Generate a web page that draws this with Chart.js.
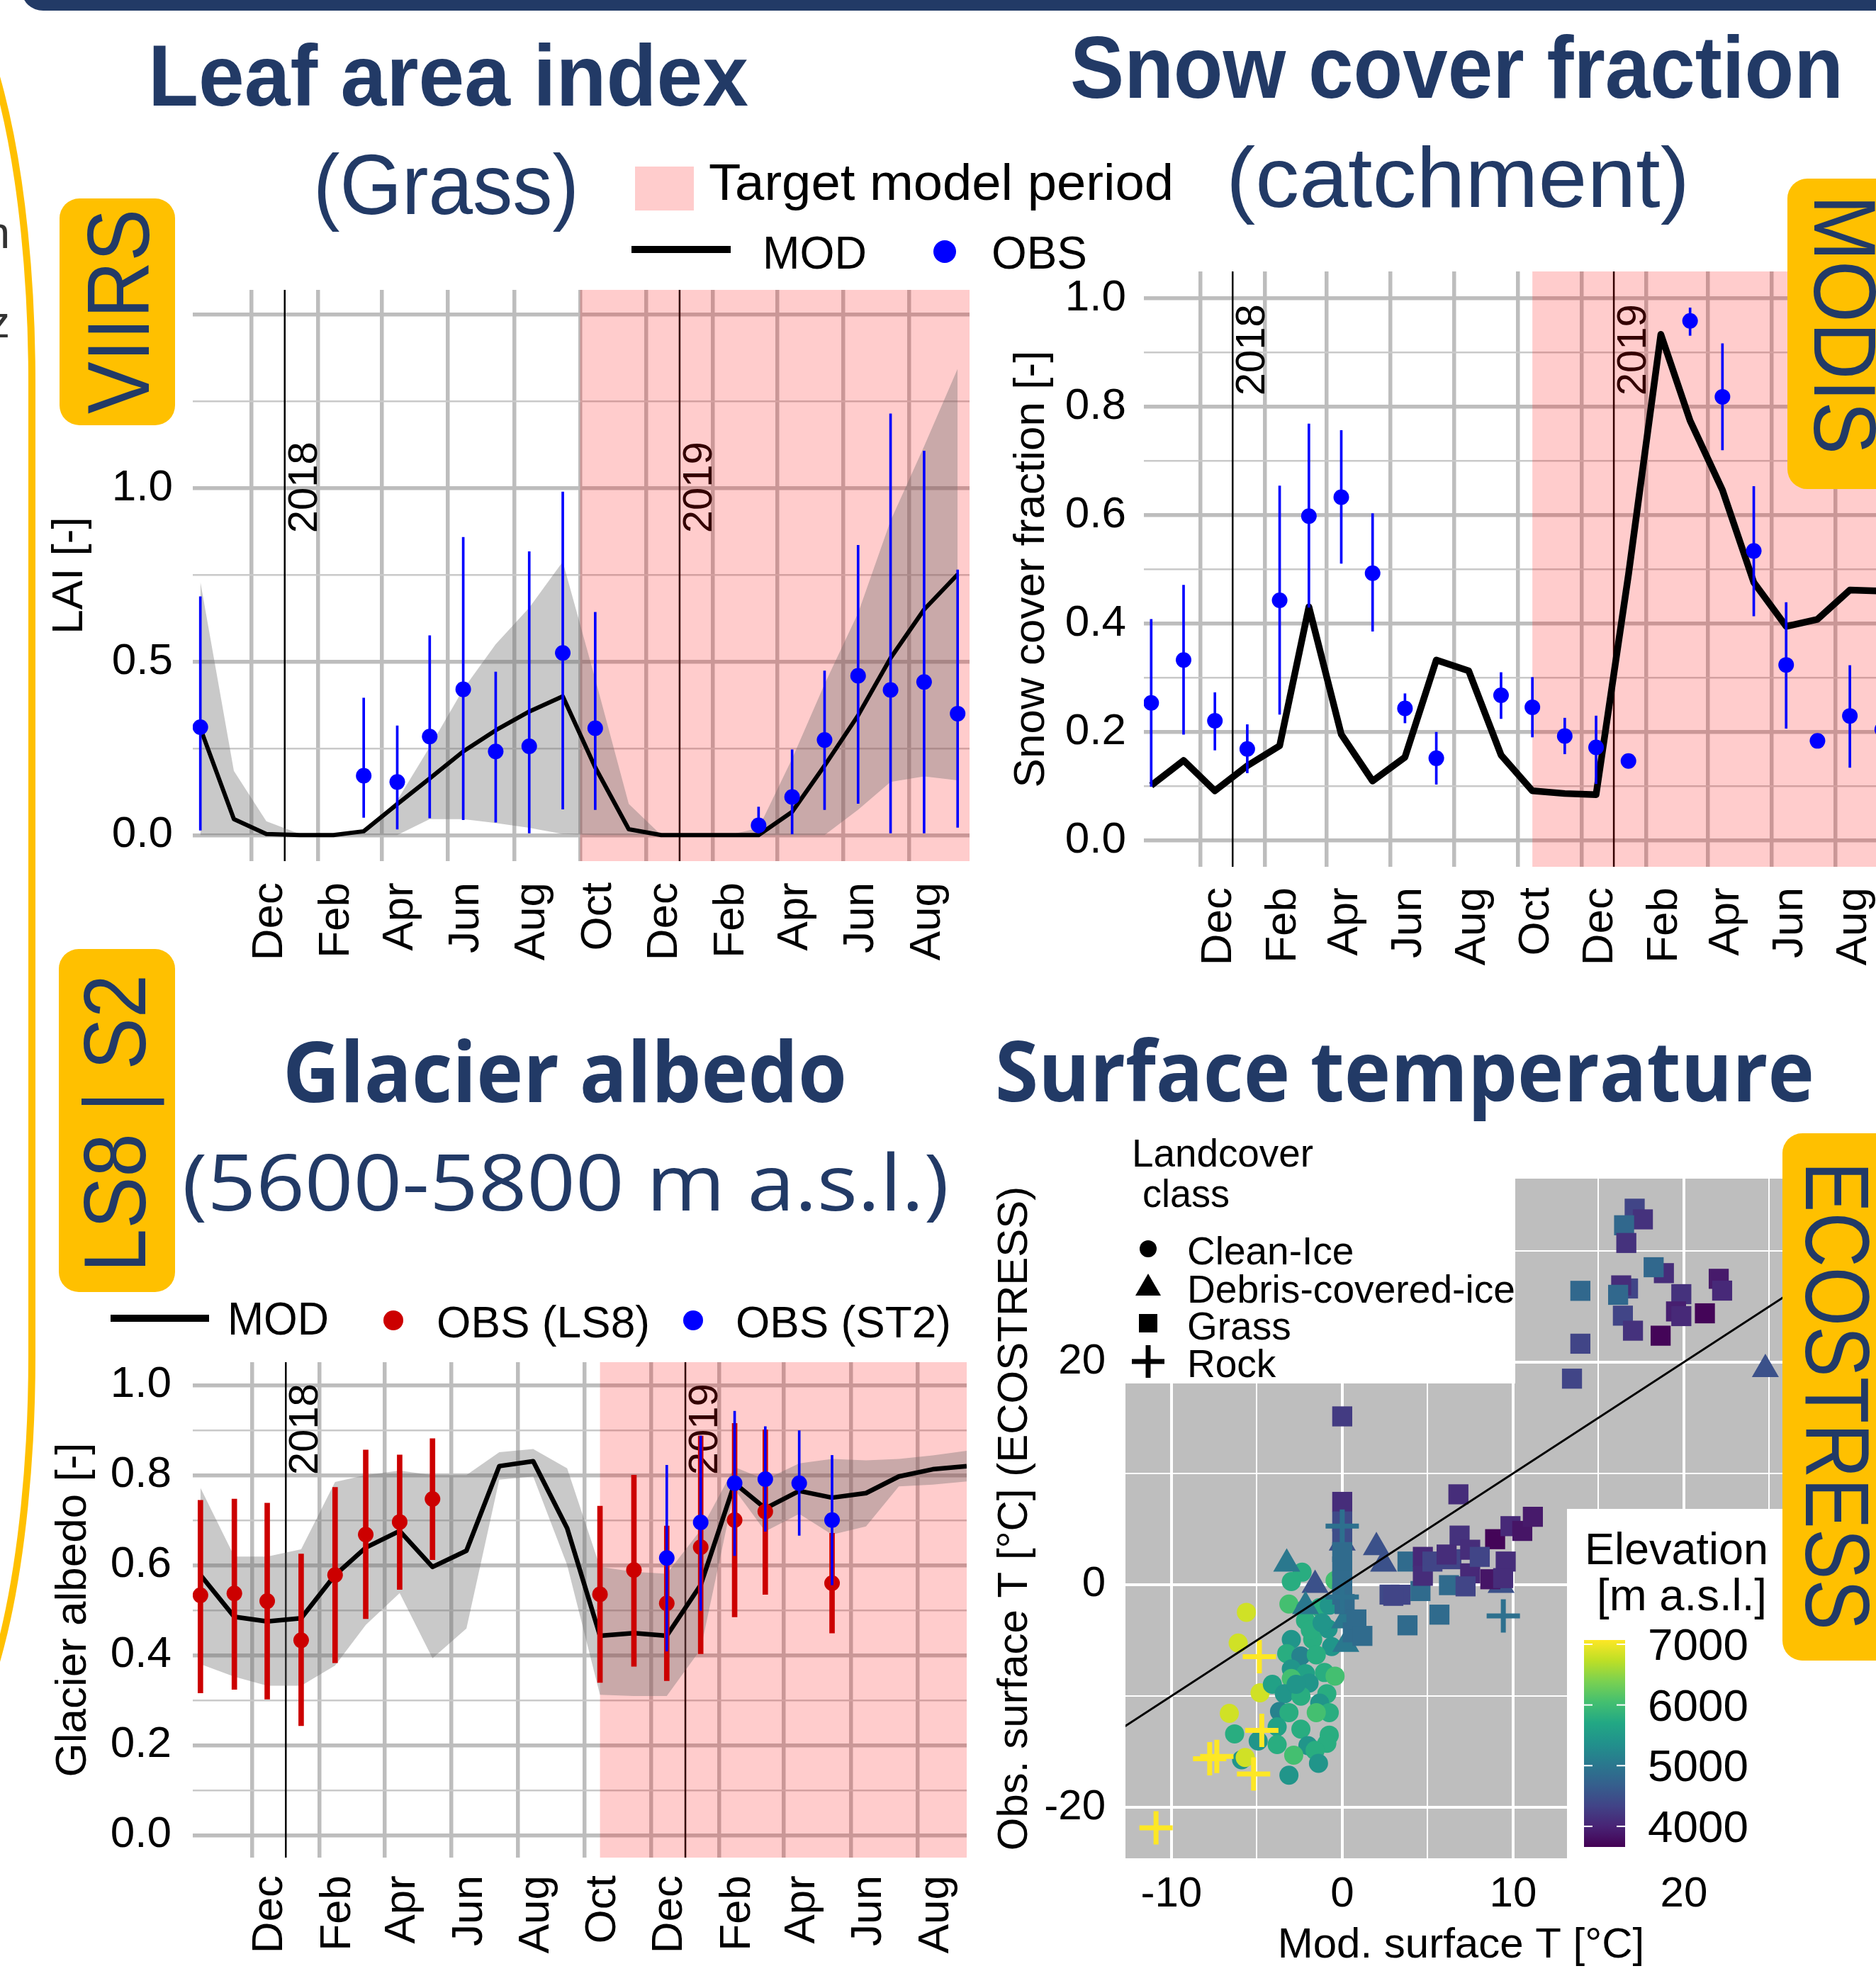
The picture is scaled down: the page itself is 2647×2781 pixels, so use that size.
<!DOCTYPE html>
<html>
<head>
<meta charset="utf-8">
<title>Model evaluation panels</title>
<script src="https://cdn.jsdelivr.net/npm/chart.js@4.4.1/dist/chart.umd.min.js"></script>
<style>
html,body{margin:0;padding:0;background:#fff;overflow:hidden;}
body{width:2647px;height:2781px;position:relative;}
.cw{position:absolute;}
.cw canvas{display:block;}
#ov{position:absolute;left:0;top:0;z-index:5;}
#ov text{font-family:'Liberation Sans',Arial,sans-serif;}
#ov .os{font-family:'Open Sans','Noto Sans',sans-serif;}
</style>
</head>
<body>
<div class="cw" style="left:60px;top:380px;"><canvas id="laiChart" width="1330" height="1030"></canvas></div>
<div class="cw" style="left:1400px;top:360px;"><canvas id="snowChart" width="1290" height="1060"></canvas></div>
<div class="cw" style="left:60px;top:1900px;"><canvas id="albChart" width="1320" height="881"></canvas></div>
<div class="cw" style="left:1380px;top:1590px;"><canvas id="lstChart" width="1267" height="1191"></canvas></div>

<svg id="ov" width="2647" height="2781" viewBox="0 0 2647 2781">
  <defs>
    <linearGradient id="vir" x1="0" y1="0" x2="0" y2="1"></linearGradient>
  </defs>
  <!-- frame pieces -->
  <rect x="31" y="-40" width="2700" height="55" rx="30" fill="#223a66"/>
  <rect x="-300" y="-39" width="345" height="2531" rx="150" ry="580" fill="none" stroke="#FFC000" stroke-width="10"/>
  <text x="14" y="350" text-anchor="end" font-size="63" fill="#333">n</text>
  <text x="14" y="476" text-anchor="end" font-size="63" fill="#333">z</text>

  <!-- titles -->
  <g fill="#223a66">
    <text x="209" y="149" font-size="123" font-weight="700" textLength="847" lengthAdjust="spacingAndGlyphs">Leaf area index</text>
    <text x="442" y="302" font-size="120" textLength="375" lengthAdjust="spacingAndGlyphs">(Grass)</text>
    <text x="1510" y="138" font-size="125" font-weight="700" textLength="1091" lengthAdjust="spacingAndGlyphs">Snow cover fraction</text>
    <text x="1730" y="292" font-size="120" textLength="654" lengthAdjust="spacingAndGlyphs">(catchment)</text>
    <text class="os" x="399" y="1555" font-size="119" font-weight="700" textLength="796" lengthAdjust="spacingAndGlyphs">Glacier albedo</text>
    <text class="os" x="257" y="1708" font-size="109" textLength="1082" lengthAdjust="spacingAndGlyphs">(5600-5800 m a.s.l.)</text>
    <text class="os" x="1404" y="1554" font-size="119" font-weight="700" textLength="1156" lengthAdjust="spacingAndGlyphs">Surface temperature</text>
  </g>

  <!-- top legend -->
  <rect x="896" y="235" width="83" height="62" fill="#FFCCCC"/>
  <text x="1000" y="282" font-size="73" textLength="656" lengthAdjust="spacingAndGlyphs">Target model period</text>
  <line x1="891" y1="352" x2="1031" y2="352" stroke="#000" stroke-width="10"/>
  <text x="1076" y="379" font-size="64" textLength="147" lengthAdjust="spacingAndGlyphs">MOD</text>
  <circle cx="1333" cy="355" r="16" fill="#0000FF"/>
  <text x="1399" y="379" font-size="64" textLength="135" lengthAdjust="spacingAndGlyphs">OBS</text>

  <!-- albedo legend -->
  <line x1="156" y1="1860" x2="295" y2="1860" stroke="#000" stroke-width="10"/>
  <text x="321" y="1883" font-size="64" textLength="143" lengthAdjust="spacingAndGlyphs">MOD</text>
  <circle cx="555" cy="1863" r="14" fill="#CC0000"/>
  <text x="616" y="1887" font-size="63" textLength="301" lengthAdjust="spacingAndGlyphs">OBS (LS8)</text>
  <circle cx="978" cy="1863" r="14" fill="#0000FF"/>
  <text x="1038" y="1887" font-size="63" textLength="304" lengthAdjust="spacingAndGlyphs">OBS (ST2)</text>

  <!-- landcover legend -->
  <rect x="1588" y="1588" width="550" height="364" fill="#fff"/>
  <text x="1597" y="1646" font-size="55" textLength="256" lengthAdjust="spacingAndGlyphs">Landcover</text>
  <text x="1612" y="1703" font-size="55" textLength="123" lengthAdjust="spacingAndGlyphs">class</text>
  <circle cx="1620" cy="1762" r="12" fill="#000"/>
  <polygon points="1620,1797 1638,1828 1602,1828" fill="#000"/>
  <rect x="1607" y="1854" width="26" height="26" fill="#000"/>
  <path d="M1597 1921 H1643 M1620 1898 V1944" stroke="#000" stroke-width="7"/>
  <text x="1675" y="1784" font-size="55">Clean-Ice</text>
  <text x="1675" y="1838" font-size="55" textLength="463" lengthAdjust="spacingAndGlyphs">Debris-covered-ice</text>
  <text x="1675" y="1890" font-size="55">Grass</text>
  <text x="1675" y="1943" font-size="55">Rock</text>

  <!-- elevation legend -->
  <rect x="2211" y="2129" width="340" height="493" fill="#fff"/>
  <text x="2236" y="2207" font-size="63" textLength="259" lengthAdjust="spacingAndGlyphs">Elevation</text>
  <text x="2253" y="2272" font-size="63" textLength="240" lengthAdjust="spacingAndGlyphs">[m a.s.l.]</text>
  <g id="cbar"></g>

  <!-- sensor boxes -->
  <g fill="#FFC000">
    <rect x="84" y="280" width="163" height="320" rx="28"/>
    <rect x="83" y="1339" width="164" height="484" rx="28"/>
    <rect x="2522" y="252" width="200" height="438" rx="28"/>
    <rect x="2515" y="1599" width="200" height="744" rx="28"/>
  </g>
  <g fill="#223a66">
    <text transform="translate(210,584) rotate(-90)" font-size="125" textLength="289" lengthAdjust="spacingAndGlyphs">VIIRS</text>
    <text transform="translate(205,1795) rotate(-90)" font-size="124" textLength="420" lengthAdjust="spacingAndGlyphs">LS8 | S2</text>
    <text transform="translate(2560,275) rotate(90)" font-size="125" textLength="366" lengthAdjust="spacingAndGlyphs">MODIS</text>
    <text transform="translate(2548,1639) rotate(90)" font-size="128" textLength="661" lengthAdjust="spacingAndGlyphs">ECOSTRESS</text>
  </g>
</svg>

<script>
// ---------------- DATA ----------------
const months = ['2017-10','2017-11','2017-12','2018-01','2018-02','2018-03','2018-04','2018-05','2018-06','2018-07','2018-08','2018-09',
                '2018-10','2018-11','2018-12','2019-01','2019-02','2019-03','2019-04','2019-05','2019-06','2019-07','2019-08','2019-09'];
const tickMonths = ['2017-12','2018-02','2018-04','2018-06','2018-08','2018-10','2018-12','2019-02','2019-04','2019-06','2019-08'];
const tickLabels = ['Dec','Feb','Apr','Jun','Aug','Oct','Dec','Feb','Apr','Jun','Aug'];
const yearStarts = ['2018-01-01','2019-01-01'];
const yearLabels = ['2018','2019'];

// Leaf area index (grass, VIIRS)
const laiTargetStart = '2018-10-01';
const laiMod   = [0.308,0.046,0.003,0,0,0.011,0.089,0.163,0.241,0.302,0.356,0.400,0.195,0.017,0,0,0,0,0.067,0.200,0.345,0.510,0.650,0.751];
const laiUpper = [0.730,0.185,0.040,0.003,0,0.010,0.100,0.254,0.420,0.550,0.655,0.788,0.450,0.090,0,0,0,0.020,0.220,0.435,0.640,0.906,1.120,1.344];
const laiLower = [0,0,0,0,0,0,0,0.046,0.046,0.035,0.021,0.003,0,0,0,0,0,0,0,0,0.073,0.153,0.169,0.158];
const laiObs   = [0.311,null,null,null,null,0.171,0.153,0.284,0.420,0.241,0.256,0.525,0.308,null,null,null,null,0.028,0.110,0.274,0.459,0.418,0.441,0.350];
const laiObsLo = [0.014,null,null,null,null,0.051,0.017,0.049,0.044,0.037,0,0.075,0.073,null,null,null,null,0,0.003,0.073,0.091,0,0.006,0.022];
const laiObsHi = [0.687,null,null,null,null,0.395,0.315,0.575,0.858,0.470,0.817,0.989,0.642,null,null,null,null,0.081,0.246,0.473,0.835,1.214,1.107,0.764];

// Snow cover fraction (catchment, MODIS)
const snowTargetStart = '2018-10-15';
const snowMod   = [0.102,0.148,0.092,0.138,0.175,0.431,0.196,0.110,0.154,0.333,0.313,0.158,0.092,0.087,0.085,0.490,0.933,0.774,0.646,0.476,0.395,0.408,0.462,0.460];
const snowObs   = [0.254,0.333,0.221,0.169,0.443,0.598,0.633,0.493,0.244,0.152,null,0.268,0.246,0.193,0.172,0.147,null,0.958,0.818,0.534,0.324,0.184,0.230,0.205];
const snowObsLo = [0.100,0.196,0.167,0.125,0.233,0.430,0.511,0.386,0.217,0.104,null,0.225,0.191,0.160,0.105,null,null,0.931,0.720,0.414,0.207,null,0.135,null];
const snowObsHi = [0.408,0.471,0.273,0.214,0.654,0.768,0.756,0.603,0.271,0.200,null,0.310,0.301,0.226,0.230,null,null,0.982,0.916,0.653,0.439,null,0.323,null];

// Glacier albedo (5600-5800 m a.s.l., Landsat 8 / Sentinel-2)
const albTargetStart = '2018-10-15';
const albMod   = [0.578,0.485,0.475,0.482,0.578,0.639,0.676,0.596,0.632,0.820,0.831,0.682,0.443,0.449,0.443,0.556,0.782,0.726,0.765,0.750,0.760,0.797,0.813,0.820];
const albUpper = [0.772,0.619,0.619,0.635,0.785,0.800,0.810,0.800,0.800,0.851,0.858,0.815,0.596,0.585,0.581,0.678,0.818,0.790,0.826,0.836,0.833,0.836,0.844,0.854];
const albLower = [0.380,0.352,0.332,0.332,0.377,0.467,0.538,0.393,0.459,0.790,0.797,0.600,0.312,0.309,0.309,0.413,0.768,0.675,0.714,0.668,0.686,0.775,0.779,0.786];
const albLs8   = [0.533,0.537,0.520,0.433,0.578,0.668,0.696,0.747,null,null,null,null,0.535,0.589,0.515,0.640,0.700,0.719,null,0.560,null,null,null,null];
const albLs8Lo = [0.316,0.324,0.302,0.243,0.383,0.481,0.546,0.612,null,null,null,null,0.339,0.375,0.343,0.403,0.485,0.535,null,0.449,null,null,null,null];
const albLs8Hi = [0.744,0.747,0.738,0.625,0.773,0.856,0.845,0.881,null,null,null,null,0.731,0.800,0.687,0.887,0.915,0.901,null,0.671,null,null,null,null];
const albSt2   = [null,null,null,null,null,null,null,null,null,null,null,null,null,null,0.616,0.695,0.782,0.791,0.782,0.700,null,null,null,null];
const albSt2Lo = [null,null,null,null,null,null,null,null,null,null,null,null,null,null,0.409,0.499,0.621,0.675,0.666,0.556,null,null,null,null];
const albSt2Hi = [null,null,null,null,null,null,null,null,null,null,null,null,null,null,0.822,0.887,0.942,0.908,0.899,0.844,null,null,null,null];

// Surface temperature (ECOSTRESS): modelled x, observed y, elevation
const iceX = [-5.61,-6.09,-4.81,-6.61,-5.89,-5.68,-2.35,-2.98,-0.42,-3.12,-2.15,-1.32,-0.76,-2.15,-0.83,-2.98,-1.73,-0.62,-3.25,-2.42,-1.52,-2.98,-2.15,-1.04,-0.42,-4.09,-2.98,-1.94,-3.39,-2.42,-0.90,-1.32,-0.76,-3.67,-3.12,-1.52,-3.81,-2.42,-0.76,-6.30,-4.92,-3.81,-2.01,-0.90,-2.84,-1.59,-1.39,-3.12,-1.87,-1.18,-2.70];
const iceY = [-2.48,-5.24,-9.71,-11.56,-15.73,-15.52,1.12,0.28,0.38,-1.74,-2.16,-2.06,-1.84,-3.22,-3.97,-4.92,-4.92,-5.56,-6.19,-6.40,-6.30,-7.57,-7.99,-7.89,-8.21,-8.95,-8.42,-8.84,-9.80,-10.01,-9.80,-10.64,-11.49,-11.39,-11.49,-11.49,-12.77,-12.98,-13.51,-13.40,-14.04,-14.36,-14.46,-14.25,-15.31,-14.89,-16.05,-17.11,-4.07,-3.43,-8.95];
const iceElev = [6830,6830,6830,6830,5430,6830,5775,5775,6050,6050,5430,5775,5430,5775,5430,5430,5775,5430,5775,5160,5775,5430,5600,5775,6050,5600,6050,5430,5430,5775,5775,5430,5775,5160,5775,6050,5600,5775,5775,5775,5430,5775,5430,5775,6050,5775,5430,5430,5775,5430,5430];

const debrisX = [-3.25,-1.59,-2.15,0.14,0.21,0,2.00,2.42,9.30,24.77];
const debrisY = [1.87,-0.04,-1.95,-3.22,-5.34,3.77,3.35,1.87,-0.04,19.36];
const debrisElev = [5025,4510,5025,5025,5025,4510,4510,4510,4510,4510];

const grassX = [0,0,0,0,0,0,0,0,0.14,0.62,0.83,1.18,2.77,3.82,3.41,2.99,4.58,5.69,3.82,4.72,4.72,5.28,6.25,6.39,6.80,6.87,7.49,7.49,7.22,8.95,8.67,9.57,9.85,10.54,11.16,9.42,6.11,8.05,
                17.12,17.60,16.50,16.63,18.83,18.23,13.94,16.73,16.33,16.15,19.85,22.04,22.24,16.43,19.54,19.85,21.23,17.02,18.64,13.94,13.45];
const grassY = [15.12,7.44,5.68,4.41,2.93,1.65,0.38,-0.89,-1.74,-4.28,-3.12,-4.60,-0.89,2.08,-0.90,-1.00,-0.57,-2.69,-3.65,2.50,0.80,2.08,-0.04,2.29,8.12,4.41,3.14,1.02,-0.15,4.09,0.49,2.08,5.26,4.83,6.10,0.59,2.71,2.50,
                33.78,32.82,32.29,30.70,27.99,28.52,26.40,26.61,26.89,26.04,26.10,27.48,26.42,24.17,24.55,24.13,24.38,22.82,22.37,21.65,18.51];
const grassElev = [4250,4100,4400,4450,4850,4850,4850,4850,4850,4850,4850,4850,4400,4850,4350,4350,4850,4850,4850,4050,4100,4350,4850,4350,4100,4150,4100,4050,4350,3700,3850,4100,4050,3850,3900,4100,4100,4350,
                4350,4150,4800,4150,4100,4800,4800,4350,4100,4800,4150,3900,4050,4350,3950,4050,3700,4150,3700,4350,4350];

const rockX = [-4.85,-4.71,-7.76,-7.34,-5.19,-10.90,9.43,0,0];
const rockY = [-6.47,-13.08,-15.63,-15.42,-17.00,-21.84,-2.80,5.26,-1.10];
const rockElev = [7070,7070,7070,7070,7070,7070,4920,4920,4920];

const identityRange = [-15, 30];
const elevMin = 3660, elevMax = 7070;
const elevTicks = [4000, 5000, 6000, 7000];

const laiYTicks = [0,0.25,0.5,0.75,1,1.25,1.5], laiYLabels = [0,0.5,1,1.5];
const fracYTicks = [0,0.1,0.2,0.3,0.4,0.5,0.6,0.7,0.8,0.9,1.0], fracYLabels = [0,0.2,0.4,0.6,0.8,1.0];
const lstXTicks = [-10,-5,0,5,10,15,20,25], lstXLabels = [-10,0,10,20];
const lstYTicks = [-20,-10,0,10,20,30], lstYLabels = [-20,0,20];

// ---------------- HELPERS ----------------
const FONT = "'Liberation Sans', Arial, sans-serif";
Chart.defaults.font.family = FONT;
Chart.defaults.color = '#000';
const ORIGIN = Date.UTC(2017, 11, 1);
function dayOf(s){ const p = s.split('-').map(Number); return (Date.UTC(p[0], p[1]-1, p[2] || 15) - ORIGIN) / 864e5; }
function pts(vals){ return months.map((m,i) => vals[i] == null ? null : {x: dayOf(m), y: vals[i]}).filter(Boolean); }
function bars(lo, hi){ return months.map((m,i) => (lo[i] == null || hi[i] == null) ? null : {x: dayOf(m), y: [lo[i], hi[i]]}).filter(Boolean); }
const near = (a, list) => list.some(b => Math.abs(a - b) < 1e-6);

const VIR = ['#440154','#482475','#414487','#355f8d','#2a788e','#21918c','#22a884','#44bf70','#7ad151','#bddf26','#fde725'];
function hexRgb(h){ return [1,3,5].map(k => parseInt(h.substr(k,2),16)); }
function viridis(t){
  t = Math.max(0, Math.min(1, t));
  const f = t * 10, i = Math.min(9, Math.floor(f)), r = f - i;
  const a = hexRgb(VIR[i]), b = hexRgb(VIR[i+1]);
  return 'rgb(' + a.map((v,k) => Math.round(v + (b[k]-v)*r)).join(',') + ')';
}
const elevColor = e => viridis((e - elevMin) / (elevMax - elevMin));

const periodPlugin = {
  id: 'period',
  beforeDatasetsDraw(chart, args, o) {
    const {ctx, chartArea: a, scales: {x, y}} = chart;
    ctx.save();
    ctx.beginPath(); ctx.rect(a.left, a.top, a.width, a.height); ctx.clip();
    yearStarts.forEach((d, i) => {
      const px = x.getPixelForValue(dayOf(d));
      ctx.strokeStyle = '#000'; ctx.lineWidth = 2.5;
      ctx.beginPath(); ctx.moveTo(px, a.top); ctx.lineTo(px, a.bottom); ctx.stroke();
      ctx.save();
      ctx.translate(px + 45, y.getPixelForValue(o.yearY));
      ctx.rotate(-Math.PI / 2);
      ctx.fillStyle = '#000'; ctx.font = '58px ' + FONT;
      ctx.textAlign = 'left'; ctx.textBaseline = 'alphabetic';
      ctx.fillText(yearLabels[i], 0, 0);
      ctx.restore();
    });
    const sx = x.getPixelForValue(dayOf(o.start));
    ctx.fillStyle = 'rgba(255,0,0,0.2)';
    ctx.fillRect(sx, a.top, a.right - sx, a.height);
    ctx.restore();
  }
};

function timeChart(id, c){
  const ds = [];
  if (c.upper) {
    ds.push({type:'line', data: pts(c.upper), fill: '+1', backgroundColor: 'rgba(105,105,105,0.36)', borderColor: 'rgba(0,0,0,0)', borderWidth: 0, pointRadius: 0, tension: 0, order: 20});
    ds.push({type:'line', data: pts(c.lower), fill: false, borderColor: 'rgba(0,0,0,0)', borderWidth: 0, pointRadius: 0, tension: 0, order: 19});
  }
  ds.push({type:'line', data: pts(c.mod), borderColor: '#000', borderWidth: c.lw, pointRadius: 0, fill: false, tension: 0, borderJoinStyle: 'round', order: 15});
  // later entries in c.obs are drawn on top of earlier ones
  c.obs.forEach((o, k) => {
    ds.push({type:'bar', data: bars(o.lo, o.hi), backgroundColor: o.color, barThickness: o.bw, maxBarThickness: o.bw, grouped: false, order: 10 - 2*k});
    ds.push({type:'line', data: pts(o.val), showLine: false, pointRadius: 11, pointBackgroundColor: o.color, pointBorderWidth: 0, order: 9 - 2*k});
  });
  return new Chart(document.getElementById(id), {
    type: 'line',
    data: {datasets: ds},
    plugins: [periodPlugin],
    options: {
      responsive: false, animation: false, devicePixelRatio: 1, events: [],
      layout: {padding: {top: c.padTop, right: c.padRight, left: 0, bottom: 0}},
      plugins: {legend: {display: false}, tooltip: {enabled: false}, period: {start: c.start, yearY: c.yearY}},
      scales: {
        x: {
          type: 'linear', min: c.xmin, max: c.xmax, offset: false,
          afterBuildTicks: ax => { ax.ticks = tickMonths.map(m => ({value: dayOf(m + '-01')})); },
          afterFit: s => { s.height = c.xh; s.paddingLeft = 0; s.paddingRight = 0; },
          ticks: {autoSkip: false, minRotation: 90, maxRotation: 90, padding: c.xpad, labelOffset: 26, color: '#000', font: {size: 62},
                  callback: (v, i) => tickLabels[i]},
          grid: {color: '#bdbdbd', lineWidth: 5.5, drawTicks: false, offset: false},
          border: {display: false}
        },
        y: {
          type: 'linear', min: c.ymin, max: c.ymax,
          afterBuildTicks: ax => { ax.ticks = c.yticks.map(v => ({value: v})); },
          afterFit: s => { s.width = c.yw; s.paddingTop = 0; s.paddingBottom = 0; },
          ticks: {autoSkip: false, padding: c.ypad, color: '#000', font: {size: 62},
                  callback: v => near(v, c.ylabels) ? v.toFixed(1) : ''},
          grid: {color: ctx => near(ctx.tick.value, c.ylabels) ? '#bdbdbd' : '#c9c9c9',
                 lineWidth: ctx => near(ctx.tick.value, c.ylabels) ? 5.5 : 2.5, drawTicks: false},
          border: {display: false},
          title: {display: true, text: c.ytitle, color: '#000', font: {size: 62}, padding: {top: c.tpad, bottom: 0}}
        }
      }
    }
  });
}

timeChart('laiChart', {
  mod: laiMod, upper: laiUpper, lower: laiLower, lw: 6,
  obs: [{val: laiObs, lo: laiObsLo, hi: laiObsHi, color: '#0000FF', bw: 3}],
  start: laiTargetStart, yearY: 0.87,
  xmin: -54, xmax: 664, ymin: -0.075, ymax: 1.571, yticks: laiYTicks, ylabels: laiYLabels,
  padTop: 29, padRight: 22, yw: 212, xh: 195, xpad: 30, ypad: 28, tpad: 2, ytitle: 'LAI [-]'
});

timeChart('snowChart', {
  mod: snowMod, lw: 9.5,
  obs: [{val: snowObs, lo: snowObsLo, hi: snowObsHi, color: '#0000FF', bw: 3}],
  start: snowTargetStart, yearY: 0.82,
  xmin: -54, xmax: 664, ymin: -0.048, ymax: 1.049, yticks: fracYTicks, ylabels: fracYLabels,
  padTop: 23, padRight: 18, yw: 214, xh: 197, xpad: 29, ypad: 25, tpad: 19, ytitle: 'Snow cover fraction [-]'
});

timeChart('albChart', {
  mod: albMod, upper: albUpper, lower: albLower, lw: 6.5,
  obs: [{val: albLs8, lo: albLs8Lo, hi: albLs8Hi, color: '#CC0000', bw: 7},
        {val: albSt2, lo: albSt2Lo, hi: albSt2Hi, color: '#0000FF', bw: 3}],
  start: albTargetStart, yearY: 0.80,
  xmin: -54, xmax: 653, ymin: -0.05, ymax: 1.051, yticks: fracYTicks, ylabels: fracYLabels,
  padTop: 22, padRight: 16, yw: 212, xh: 160, xpad: 25, ypad: 30, tpad: 7, ytitle: 'Glacier albedo [-]'
});

// ---------------- SCATTER ----------------
const grayPanel = {
  id: 'grayPanel',
  beforeDraw(chart){
    const {ctx, chartArea: a} = chart;
    ctx.save(); ctx.fillStyle = '#bebebe'; ctx.fillRect(a.left, a.top, a.width, a.height); ctx.restore();
  }
};
const xy = (X, Y) => X.map((x, i) => ({x, y: Y[i]}));
new Chart(document.getElementById('lstChart'), {
  type: 'scatter',
  data: {datasets: [
    {type: 'line', data: identityRange.map(v => ({x: v, y: v})), borderColor: '#000', borderWidth: 3, pointRadius: 0, fill: false, order: 0},
    {data: xy(rockX, rockY), pointStyle: 'cross', pointRadius: 23.5, pointBorderWidth: 7, pointBorderColor: rockElev.map(elevColor), pointBackgroundColor: rockElev.map(elevColor), order: 1},
    {data: xy(grassX, grassY), pointStyle: 'rect', pointRadius: 20, pointBorderWidth: 0, pointBackgroundColor: grassElev.map(elevColor), order: 2},
    {data: xy(debrisX, debrisY), pointStyle: 'triangle', pointRadius: 22, pointBorderWidth: 0, pointBackgroundColor: debrisElev.map(elevColor), order: 3},
    {data: xy(iceX, iceY), pointStyle: 'circle', pointRadius: 13.5, pointBorderWidth: 0, pointBackgroundColor: iceElev.map(elevColor), order: 4}
  ]},
  plugins: [grayPanel],
  options: {
    responsive: false, animation: false, devicePixelRatio: 1, events: [],
    layout: {padding: {top: 73, right: 112, left: 0, bottom: 0}},
    plugins: {legend: {display: false}, tooltip: {enabled: false}},
    scales: {
      x: {
        type: 'linear', min: -12.69, max: 26.6, offset: false,
        afterBuildTicks: ax => { ax.ticks = lstXTicks.map(v => ({value: v})); },
        afterFit: s => { s.height = 159; s.paddingLeft = 0; s.paddingRight = 0; },
        ticks: {autoSkip: false, minRotation: 0, maxRotation: 0, padding: 15, color: '#000', font: {size: 60},
                callback: v => near(v, lstXLabels) ? String(v) : ''},
        grid: {color: '#fff', lineWidth: ctx => near(ctx.tick.value, lstXLabels) ? 4 : 2, drawTicks: false, offset: false},
        border: {display: false},
        title: {display: true, text: 'Mod. surface T [°C]', color: '#000', font: {size: 60}, padding: {top: 0, bottom: 0}}
      },
      y: {
        type: 'linear', min: -24.58, max: 36.48,
        afterBuildTicks: ax => { ax.ticks = lstYTicks.map(v => ({value: v})); },
        afterFit: s => { s.width = 208; s.paddingTop = 0; s.paddingBottom = 0; },
        ticks: {autoSkip: false, padding: 28, color: '#000', font: {size: 60},
                callback: v => near(v, lstYLabels) ? String(v) : ''},
        grid: {color: '#fff', lineWidth: ctx => near(ctx.tick.value, lstYLabels) ? 4 : 2, drawTicks: false},
        border: {display: false},
        title: {display: true, text: 'Obs. surface T [°C] (ECOSTRESS)', color: '#000', font: {size: 60}, padding: {top: 16, bottom: 0}}
      }
    }
  }
});

// ---------------- COLOURBAR ----------------
(function(){
  const NS = 'http://www.w3.org/2000/svg';
  const grad = document.getElementById('vir');
  for (let k = 0; k <= 10; k++) {
    const s = document.createElementNS(NS, 'stop');
    s.setAttribute('offset', (k / 10).toFixed(2));
    s.setAttribute('stop-color', VIR[10 - k]);
    grad.appendChild(s);
  }
  const cb = {x: 2235, y: 2314, w: 58, h: 292};
  const g = document.getElementById('cbar');
  let html = `<rect x="${cb.x}" y="${cb.y}" width="${cb.w}" height="${cb.h}" fill="url(#vir)"/>`;
  elevTicks.forEach(v => {
    const py = cb.y + (elevMax - v) / (elevMax - elevMin) * cb.h;
    html += `<line x1="${cb.x}" y1="${py}" x2="${cb.x + 12}" y2="${py}" stroke="#fff" stroke-width="2"/>`;
    html += `<line x1="${cb.x + cb.w - 12}" y1="${py}" x2="${cb.x + cb.w}" y2="${py}" stroke="#fff" stroke-width="2"/>`;
    html += `<text x="2325" y="${py + 22}" font-size="63" textLength="142" lengthAdjust="spacingAndGlyphs">${v}</text>`;
  });
  g.innerHTML = html;
})();
</script>
</body>
</html>
